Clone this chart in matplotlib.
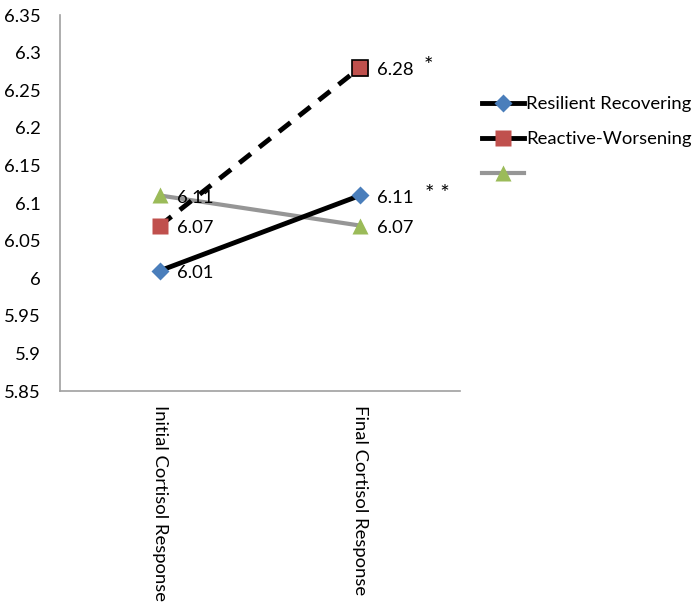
import matplotlib.pyplot as plt
from matplotlib.lines import Line2D

plt.rcParams['font.family'] = ['Lato', 'DejaVu Sans']

categories = ["Initial Cortisol Response", "Final Cortisol Response"]
resilient = [6.01, 6.11]
reactive = [6.07, 6.28]
third = [6.11, 6.07]
labels_res = ["6.01", "6.11"]
labels_rea = ["6.07", "6.28"]
labels_thr = ["6.11", "6.07"]
stars = {"reactive": "*", "resilient": "* *"}
yticks = [5.85, 5.9, 5.95, 6, 6.05, 6.1, 6.15, 6.2, 6.25, 6.3, 6.35]

fig = plt.figure(figsize=(7, 6.06), dpi=100)
ax = fig.add_axes([60 / 700, 1 - 391 / 606, 400 / 700, 376 / 606])

FS = 13.3

x = range(len(categories))
ax.plot(x, third, color="#969696", lw=3, marker="^", ms=11,
        mfc="#9bbb59", mec="none", zorder=2)
ax.plot(x, resilient, color="black", lw=3.5, marker="D", ms=9,
        mfc="#4a7ebb", mec="none", zorder=3)
ax.plot(x, reactive, color="black", lw=3.5, ls=(0, (3, 2.2)), marker="s", ms=11,
        mfc="#c0504d", mec="none", zorder=3)
# final square has a dark border in the original
ax.plot([x[1]], [reactive[1]], ls="none", marker="s", ms=11,
        mfc="#c0504d", mec="black", mew=1.2, zorder=4)

for series, labs in [(resilient, labels_res), (reactive, labels_rea), (third, labels_thr)]:
    for i, (v, t) in enumerate(zip(series, labs)):
        ax.annotate(t, (i, v), xytext=(12, -2), textcoords="offset points",
                    va="center", ha="left", fontsize=FS, zorder=5)

ax.annotate(stars["reactive"], (1, reactive[1]), xytext=(46, 1),
            textcoords="offset points", va="center", ha="left", fontsize=16)
ax.annotate(stars["resilient"], (1, resilient[1]), xytext=(47, 1),
            textcoords="offset points", va="center", ha="left", fontsize=16)

ax.set_xlim(-0.5, 1.5)
ax.set_ylim(5.85, 6.35)
ax.set_yticks(yticks)
ax.set_yticklabels([f"{t:g}" for t in yticks], fontsize=FS)
ax.set_xticks(list(x))
ax.set_xticklabels(categories, rotation=270, fontsize=FS, va="top", ha="center")
ax.tick_params(axis="y", length=0, pad=14)
ax.tick_params(axis="x", length=0, pad=10)

for s in ["top", "right"]:
    ax.spines[s].set_visible(False)
for s in ["left", "bottom"]:
    ax.spines[s].set_color("#a0a0a0")
    ax.spines[s].set_linewidth(1.2)

# legend shows solid lines for every series
legend_handles = [
    Line2D([], [], color="black", lw=3.5, marker="D", ms=9, mfc="#4a7ebb", mec="none"),
    Line2D([], [], color="black", lw=3.5, marker="s", ms=11, mfc="#c0504d", mec="none"),
    Line2D([], [], color="#969696", lw=3, marker="^", ms=11, mfc="#9bbb59", mec="none"),
]
ax.legend(legend_handles, ["Resilient Recovering", "Reactive-Worsening", " "],
          loc="upper left", bbox_to_anchor=(482 / 700, 1 - 96 / 606),
          bbox_transform=fig.transFigure, frameon=False, fontsize=FS,
          handlelength=2.3, handletextpad=0.1, labelspacing=1.05,
          borderaxespad=0, borderpad=0)

fig.savefig("out.png", dpi=100)
